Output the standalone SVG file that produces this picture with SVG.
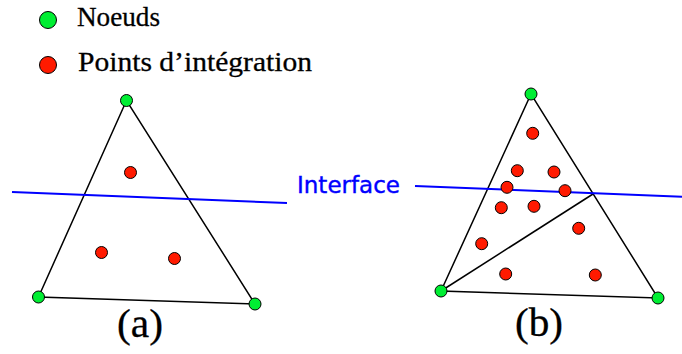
<svg xmlns="http://www.w3.org/2000/svg" width="682" height="354" viewBox="0 0 682 354">
<style>
.edge{stroke:#000;stroke-width:1.5;fill:none}
.iface{stroke:#0000ff;stroke-width:2;fill:none}
.node{fill:#00ee33;stroke:#000;stroke-width:1}
.ip{fill:#ff1a00;stroke:#000;stroke-width:1}
.lbl{font-family:"Liberation Serif","Times New Roman",serif;fill:#000;stroke:#000;stroke-width:0.3}
.itxt{font-family:"DejaVu Sans",sans-serif;fill:#0000ff;font-size:23px;stroke:#0000ff;stroke-width:0.4}
</style>
<rect width="682" height="354" fill="#fff"/>
<g id="legend">
  <circle class="node" cx="48" cy="20" r="8.5"/>
  <text class="lbl" x="77" y="26" font-size="28" textLength="83" lengthAdjust="spacingAndGlyphs">Noeuds</text>
  <circle class="ip" cx="48" cy="65" r="8.5"/>
  <text class="lbl" x="78" y="71" font-size="28" textLength="234" lengthAdjust="spacingAndGlyphs">Points d’intégration</text>
</g>
<g id="connectors">
  <polygon class="edge" points="126.5,100.5 38.5,297 255,304"/>
  <line class="iface" x1="12" y1="192" x2="287" y2="203"/>
  <polygon class="edge" points="531,94 441,291 658,298"/>
  <line class="edge" x1="441" y1="291" x2="593" y2="194"/>
  <line class="iface" x1="415" y1="186" x2="682" y2="196.7"/>
</g>
<g id="element-a">
  <circle class="ip" cx="130.5" cy="172.5" r="6"/>
  <circle class="ip" cx="101.5" cy="252.5" r="6"/>
  <circle class="ip" cx="174.5" cy="258.5" r="6"/>
  <circle class="node" cx="126.5" cy="100.5" r="6"/>
  <circle class="node" cx="38.5" cy="297" r="6"/>
  <circle class="node" cx="255" cy="304" r="6"/>
  <text class="lbl" x="140" y="337" font-size="40" text-anchor="middle" textLength="46" lengthAdjust="spacingAndGlyphs">(a)</text>
</g>
<g id="element-b">
  <circle class="ip" cx="532.7" cy="133.3" r="6"/>
  <circle class="ip" cx="517.3" cy="170.7" r="6"/>
  <circle class="ip" cx="554" cy="172" r="6"/>
  <circle class="ip" cx="507" cy="187.3" r="6"/>
  <circle class="ip" cx="565" cy="190.7" r="6"/>
  <circle class="ip" cx="501.3" cy="207.7" r="6"/>
  <circle class="ip" cx="534" cy="206.3" r="6"/>
  <circle class="ip" cx="578.7" cy="228.3" r="6"/>
  <circle class="ip" cx="481.7" cy="243.7" r="6"/>
  <circle class="ip" cx="505.7" cy="274" r="6"/>
  <circle class="ip" cx="595.3" cy="275" r="6"/>
  <circle class="node" cx="531" cy="94" r="6"/>
  <circle class="node" cx="441" cy="291" r="6"/>
  <circle class="node" cx="658" cy="298" r="6"/>
  <text class="lbl" x="539" y="336" font-size="40" text-anchor="middle" textLength="48" lengthAdjust="spacingAndGlyphs">(b)</text>
</g>
<g id="interface-label">
  <text class="itxt" x="297" y="193.3" textLength="103" lengthAdjust="spacingAndGlyphs">Interface</text>
</g>
</svg>
